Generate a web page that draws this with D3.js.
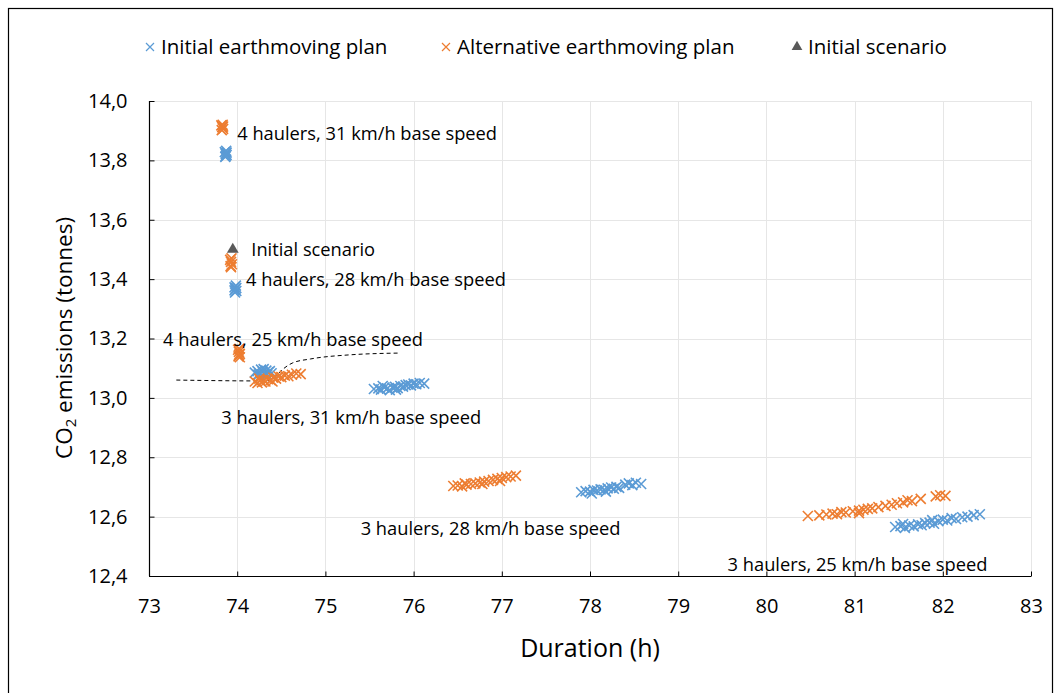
<!DOCTYPE html>
<html>
<head>
<meta charset="utf-8">
<script src="https://cdn.jsdelivr.net/npm/d3@7"></script>
<style>
  html, body { margin: 0; padding: 0; background: #fff; }
  svg { display: block; }
  text { font-family: "Open Sans", "Noto Sans", sans-serif; fill: #000; }
</style>
</head>
<body>
<svg id="chart" width="1062" height="693"></svg>
<script>
// ---- Data ----
const xTicks = [73, 74, 75, 76, 77, 78, 79, 80, 81, 82, 83];
const yTicks = [12.4, 12.6, 12.8, 13.0, 13.2, 13.4, 13.6, 13.8, 14.0];
const yTickLabels = ["12,4", "12,6", "12,8", "13,0", "13,2", "13,4", "13,6", "13,8", "14,0"];

const seriesNames = ["Initial earthmoving plan", "Alternative earthmoving plan", "Initial scenario"];

// Initial earthmoving plan (blue) - [duration h, CO2 tonnes]
const initialPlan = [
  [73.86,13.828],[73.87,13.822],[73.88,13.818],[73.865,13.812],[73.875,13.832],[73.88,13.826],[73.87,13.815],
  [73.97,13.372],[73.98,13.366],[73.99,13.36],[73.975,13.355],[73.985,13.378],[73.99,13.37],[73.97,13.362],
  [74.20,13.085],[74.23,13.09],[74.25,13.082],[74.27,13.095],[74.29,13.088],[74.31,13.08],[74.33,13.092],
  [74.35,13.086],[74.37,13.09],[74.39,13.083],[74.24,13.078],[74.30,13.097],[74.34,13.078],
  [75.55,13.03],[75.60,13.032],[75.63,13.028],[75.67,13.035],[75.70,13.031],[75.73,13.026],[75.76,13.034],
  [75.79,13.037],[75.82,13.033],[75.85,13.04],[75.88,13.038],[75.91,13.043],[75.94,13.045],[75.97,13.042],
  [76.00,13.048],[76.03,13.046],[76.07,13.05],[76.12,13.048],[75.65,13.04],[75.80,13.028],
  [77.90,12.682],[77.95,12.686],[78.00,12.684],[78.04,12.69],[78.08,12.688],[78.12,12.692],[78.16,12.69],
  [78.20,12.695],[78.24,12.698],[78.27,12.694],[78.30,12.70],[78.33,12.697],[78.40,12.708],[78.44,12.712],
  [78.48,12.706],[78.52,12.714],[78.58,12.71],[78.02,12.678],[78.18,12.684],
  [81.46,12.565],[81.52,12.568],[81.57,12.562],[81.62,12.57],[81.67,12.567],[81.72,12.574],[81.76,12.571],
  [81.80,12.578],[81.85,12.58],[81.90,12.576],[81.95,12.585],[82.00,12.59],[82.05,12.587],[82.10,12.595],
  [82.15,12.592],[82.22,12.598],[82.28,12.60],[82.35,12.605],[82.42,12.608],[81.55,12.575],[81.88,12.588]
];

// Alternative earthmoving plan (orange)
const alternativePlan = [
  [73.82,13.918],[73.83,13.912],[73.84,13.906],[73.825,13.902],[73.835,13.92],[73.84,13.914],
  [73.92,13.465],[73.93,13.458],[73.94,13.45],[73.925,13.444],[73.935,13.47],[73.93,13.44],
  [74.01,13.162],[74.02,13.155],[74.03,13.148],[74.015,13.14],[74.025,13.165],[74.03,13.137],[74.02,13.145],
  [74.20,13.055],[74.23,13.05],[74.26,13.058],[74.28,13.052],[74.30,13.06],[74.32,13.055],[74.35,13.063],
  [74.38,13.06],[74.41,13.068],[74.44,13.065],[74.47,13.072],[74.50,13.07],[74.54,13.075],[74.58,13.073],
  [74.62,13.078],[74.67,13.082],[74.72,13.08],[74.25,13.065],[74.40,13.055],
  [76.45,12.703],[76.50,12.705],[76.55,12.702],[76.60,12.708],[76.65,12.71],[76.70,12.712],[76.75,12.715],
  [76.80,12.718],[76.85,12.72],[76.90,12.724],[76.95,12.727],[77.00,12.73],[77.05,12.733],[77.10,12.735],
  [77.16,12.738],[76.58,12.712],[76.78,12.71],[76.98,12.72],
  [80.47,12.602],[80.60,12.604],[80.68,12.607],[80.75,12.61],[80.80,12.608],[80.90,12.614],[80.98,12.618],
  [81.05,12.62],[81.10,12.623],[81.15,12.626],[81.20,12.628],[81.27,12.632],[81.35,12.636],[81.42,12.64],
  [81.48,12.645],[81.55,12.648],[81.60,12.655],[81.65,12.652],[81.75,12.66],[81.92,12.668],[81.97,12.672],
  [82.03,12.67],[81.05,12.612],[80.85,12.615]
];

// Initial scenario (grey triangle)
const initialScenario = [[73.95, 13.50]];

// Dashed guide line
const guideLine = [
  [73.31,13.060],[74.31,13.057],[74.43,13.070],[74.52,13.097],[74.63,13.118],
  [74.83,13.131],[75.28,13.145],[75.85,13.151]
];

// Annotations
const annotationTexts = [
  "4 haulers, 31 km/h base speed",
  "Initial scenario",
  "4 haulers, 28 km/h base speed",
  "4 haulers, 25 km/h base speed",
  "3 haulers, 31 km/h base speed",
  "3 haulers, 28 km/h base speed",
  "3 haulers, 25 km/h base speed"
];
const annotationX = [74.0, 74.16, 74.1, 73.16, 73.82, 75.40, 79.56];
const annotationY = [13.89, 13.50, 13.40, 13.195, 12.935, 12.56, 12.44];

// ---- Drawing ----
const margin = { left: 149, right: 1031, top: 101, bottom: 576 };
const svg = d3.select("#chart");

const x = d3.scaleLinear().domain([73, 83]).range([margin.left, margin.right]);
const y = d3.scaleLinear().domain([12.4, 14.0]).range([margin.bottom, margin.top]);

const blue = "#5B9BD5", orange = "#ED7D31", grey = "#595959";

// Frame
svg.append("rect").attr("x", 8.5).attr("y", 8.5).attr("width", 1044).attr("height", 720)
  .attr("fill", "none").attr("stroke", "#000").attr("stroke-width", 1.2);

// Gridlines
svg.append("g").selectAll("line").data(yTicks.slice(1)).join("line")
  .attr("x1", margin.left).attr("x2", margin.right)
  .attr("y1", d => Math.round(y(d)) + 0.5).attr("y2", d => Math.round(y(d)) + 0.5)
  .attr("stroke", "#e6e6e6").attr("stroke-width", 1);
svg.append("g").selectAll("line").data(xTicks.slice(1)).join("line")
  .attr("y1", margin.top).attr("y2", margin.bottom)
  .attr("x1", d => Math.round(x(d)) + 0.5).attr("x2", d => Math.round(x(d)) + 0.5)
  .attr("stroke", "#e6e6e6").attr("stroke-width", 1);

// Axes
const yAxis = d3.axisLeft(y).tickValues(yTicks).tickSize(-5).tickPadding(22)
  .tickFormat((d, i) => yTickLabels[i]);
const gy = svg.append("g").attr("transform", `translate(${margin.left + 0.5},0)`).call(yAxis);
const xAxis = d3.axisBottom(x).tickValues(xTicks).tickSize(-5).tickPadding(22)
  .tickFormat(d3.format("d"));
const gx = svg.append("g").attr("transform", `translate(0,${margin.bottom + 0.5})`).call(xAxis);
[gx, gy].forEach(g => {
  g.select(".domain").attr("stroke", "#000").attr("stroke-width", 1.2);
  g.selectAll(".tick line").attr("stroke", "#000").attr("stroke-width", 1);
  g.selectAll(".tick text").style("font-family", '"Open Sans", sans-serif')
    .style("font-size", "20px").attr("fill", "#000");
});
gy.select(".domain").attr("d", `M0,${margin.top}V${margin.bottom}`);
gx.select(".domain").attr("d", `M${margin.left},0H${margin.right}`);

// Axis titles
svg.append("text").attr("x", 590).attr("y", 657).attr("text-anchor", "middle")
  .style("font-size", "25px").text("Duration (h)");
const yt = svg.append("text").attr("transform", "translate(72,338) rotate(-90)")
  .attr("text-anchor", "middle").style("font-size", "22.5px");
yt.append("tspan").text("CO");
yt.append("tspan").attr("baseline-shift", "-25%").style("font-size", "15px").text("2");
yt.append("tspan").text(" emissions (tonnes)");

// Marker generator
function xMark(sel, s) {
  sel.attr("d", `M${-s},${-s}L${s},${s}M${-s},${s}L${s},${-s}`);
}
const plot = svg.append("g");

// Dashed line
plot.append("path").datum(guideLine)
  .attr("d", d3.line().x(d => x(d[0])).y(d => y(d[1])).curve(d3.curveMonotoneX))
  .attr("fill", "none").attr("stroke", "#000").attr("stroke-width", 1).attr("stroke-dasharray", "4,3");

plot.append("g").selectAll("path").data(initialPlan).join("path")
  .attr("transform", d => `translate(${x(d[0])},${y(d[1])})`)
  .call(xMark, 5).attr("stroke", blue).attr("stroke-width", 1.6).attr("fill", "none");
plot.append("g").selectAll("path").data(alternativePlan).join("path")
  .attr("transform", d => `translate(${x(d[0])},${y(d[1])})`)
  .call(xMark, 5).attr("stroke", orange).attr("stroke-width", 1.6).attr("fill", "none");
plot.append("g").selectAll("path").data(initialScenario).join("path")
  .attr("transform", d => `translate(${x(d[0])},${y(d[1])})`)
  .attr("d", d3.symbol().type(d3.symbolTriangle).size(60))
  .attr("fill", grey);

// Annotations
svg.append("g").selectAll("text").data(annotationTexts).join("text")
  .attr("x", (d, i) => x(annotationX[i])).attr("y", (d, i) => y(annotationY[i]))
  .attr("dy", "0.35em").style("font-size", "18.3px").text(d => d);

// Legend
const legendX = [150, 446, 797];
const lg = svg.append("g").attr("transform", "translate(0,47)");
seriesNames.forEach((name, i) => {
  const g = lg.append("g").attr("transform", `translate(${legendX[i]},0)`);
  if (i < 2) {
    g.append("path").call(xMark, 4).attr("stroke", i === 0 ? blue : orange)
      .attr("stroke-width", 1.2).attr("fill", "none");
  } else {
    g.append("path").attr("d", d3.symbol().type(d3.symbolTriangle).size(50)).attr("fill", grey);
  }
  g.append("text").attr("x", 11).attr("dy", "0.35em").style("font-size", "20.5px").text(name);
});
</script>
</body>
</html>
